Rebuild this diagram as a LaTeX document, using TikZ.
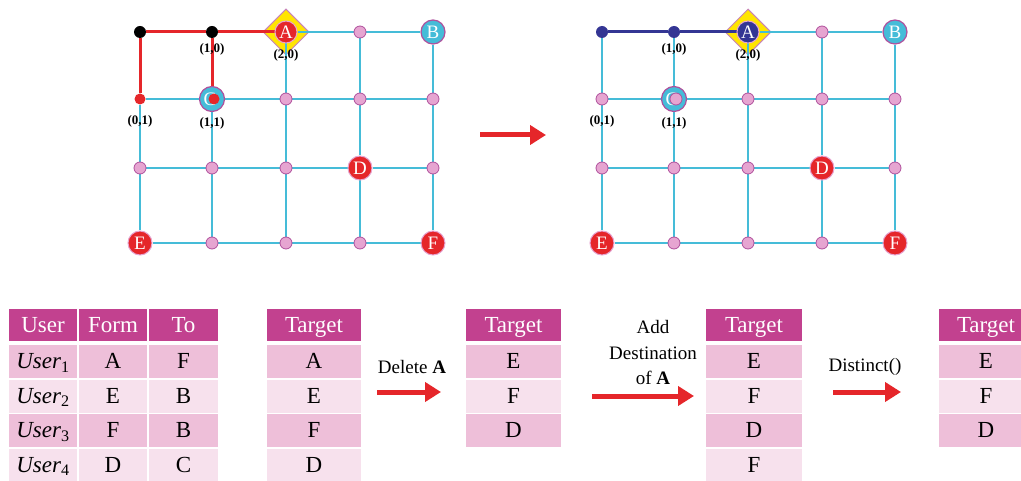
\documentclass[tikz,border=0pt]{standalone}
\usepackage{fontspec}
\setmainfont{Liberation Serif}
\usetikzlibrary{shapes.geometric,arrows.meta,backgrounds}
\definecolor{gridc}{HTML}{45BCD8}
\definecolor{redc}{HTML}{E5262A}
\definecolor{navyc}{HTML}{343694}
\definecolor{pinkc}{HTML}{E6A5D1}
\definecolor{pinkb}{HTML}{B0509C}
\definecolor{yel}{HTML}{FFE500}
\definecolor{hdr}{HTML}{C2418F}
\definecolor{rowa}{HTML}{EEBFD9}
\definecolor{rowb}{HTML}{F7E1ED}
\begin{document}
\begin{tikzpicture}[x=1pt,y=-1pt,
  gedge/.style={gridc, line width=2.5pt},
  redge/.style={redc, line width=3pt},
  nedge/.style={navyc, line width=3pt},
  pdot/.style={circle, fill=pinkc, draw=pinkb, line width=0.8pt, minimum size=12pt, inner sep=0},
  bdot/.style={circle, fill=black, minimum size=12pt, inner sep=0},
  ndot/.style={circle, fill=navyc, minimum size=12pt, inner sep=0},
  rdot/.style={circle, fill=redc, minimum size=11pt, inner sep=0},
  big/.style={circle, minimum size=24pt, inner sep=0, text=white, font=\fontsize{19}{19}\selectfont},
  bigred/.style={big, fill=redc, draw=pinkc, line width=1pt},
  bignavy/.style={big, fill=navyc, draw=pinkc, line width=1pt},
  bigcyan/.style={big, fill=gridc, draw=pinkb, line width=1.2pt},
  dia/.style={diamond, fill=yel, draw=pinkb!70, line width=1pt, minimum width=46pt, minimum height=46pt, inner sep=0},
  coord/.style={font=\bfseries\fontsize{13}{13}\selectfont, inner sep=0},
  cell/.style={minimum height=33pt, inner sep=0, text height=17.5pt, text depth=3pt, font=\fontsize{23}{23}\selectfont},
  hcell/.style={cell, fill=hdr, text=white, minimum height=32pt},
  bigarrow/.style={redc, line width=5pt, -{Triangle[length=16pt,width=19pt]}},
  lbl/.style={font=\fontsize{19}{25.5}\selectfont, align=center, inner sep=0}
]
\clip (0,0) rectangle (1021,481);
% ---------------- left grid ----------------
\node[bdot] (l00) at (140,32) {};
\node[bdot] (l10) at (212,32) {};
\node[bigred, minimum size=22pt] (l20) at (286,32) {A};
\node[pdot] (l30) at (360,32) {};
\node[bigcyan] (l40) at (433,32) {B};
\node[rdot] (l01) at (140,99) {};
\node[bigcyan, minimum size=25pt] (l11) at (212,99) {};
\node[text=white, inner sep=0, font=\fontsize{19}{19}\selectfont] (l11t) at (210,99) {C};
\node[rdot] (l11d) at (214,99) {};
\node[pdot] (l21) at (286,99) {};
\node[pdot] (l31) at (360,99) {};
\node[pdot] (l41) at (433,99) {};
\node[pdot] (l02) at (140,168) {};
\node[pdot] (l12) at (212,168) {};
\node[pdot] (l22) at (286,168) {};
\node[bigred] (l32) at (360,168) {D};
\node[pdot] (l42) at (433,168) {};
\node[bigred] (l03) at (140,243) {E};
\node[pdot] (l13) at (212,243) {};
\node[pdot] (l23) at (286,243) {};
\node[pdot] (l33) at (360,243) {};
\node[bigred] (l43) at (433,243) {F};
\node[coord] (lc10) at (212,49) {(1,0)};
\node[coord] (lc20) at (286,55) {(2,0)};
\node[coord] (lc01) at (140,121) {(0,1)};
\node[coord] (lc11) at (212,123) {(1,1)};
% ---------------- right grid ----------------
\node[ndot] (r00) at (602,32) {};
\node[ndot] (r10) at (674,32) {};
\node[bignavy, minimum size=22pt] (r20) at (748,32) {A};
\node[pdot] (r30) at (822,32) {};
\node[bigcyan] (r40) at (895,32) {B};
\node[pdot] (r01) at (602,99) {};
\node[bigcyan, minimum size=25pt] (r11) at (674,99) {};
\node[text=white, inner sep=0, font=\fontsize{19}{19}\selectfont] (r11t) at (672,99) {C};
\node[pdot] (r11d) at (676,99) {};
\node[pdot] (r21) at (748,99) {};
\node[pdot] (r31) at (822,99) {};
\node[pdot] (r41) at (895,99) {};
\node[pdot] (r02) at (602,168) {};
\node[pdot] (r12) at (674,168) {};
\node[pdot] (r22) at (748,168) {};
\node[bigred] (r32) at (822,168) {D};
\node[pdot] (r42) at (895,168) {};
\node[bigred] (r03) at (602,243) {E};
\node[pdot] (r13) at (674,243) {};
\node[pdot] (r23) at (748,243) {};
\node[pdot] (r33) at (822,243) {};
\node[bigred] (r43) at (895,243) {F};
\node[coord] (rc10) at (674,49) {(1,0)};
\node[coord] (rc20) at (748,55) {(2,0)};
\node[coord] (rc01) at (602,121) {(0,1)};
\node[coord] (rc11) at (674,123) {(1,1)};
% ---------------- edges (behind nodes) ----------------
\begin{pgfonlayer}{background}
  \node[dia] (ldia) at (286,32) {};
  \node[dia] (rdia) at (748,32) {};
  \foreach \g in {l,r}{
    \foreach \r in {1,2,3}
      \foreach \c/\d in {0/1,1/2,2/3,3/4}
        \draw[gedge] (\g\c\r) -- (\g\d\r);
    \foreach \c/\d in {2/3,3/4}
      \draw[gedge] (\g\c0) -- (\g\d0);
    \foreach \c in {2,3,4}
      \foreach \r/\s in {0/1,1/2,2/3}
        \draw[gedge] (\g\c\r) -- (\g\c\s);
    \foreach \c in {0,1}
      \foreach \r/\s in {1/2,2/3}
        \draw[gedge] (\g\c\r) -- (\g\c\s);
  }
  \draw[gedge] (r00) -- (r01);
  \draw[gedge] (r10) -- (r11);
  \draw[redge] (l00) -- (l10);
  \draw[redge] (l10) -- (l20);
  \draw[redge] (l00) -- (l01);
  \draw[redge] (l10) -- (l11);
  \draw[nedge] (r00) -- (r10);
  \draw[nedge] (r10) -- (r20);
\end{pgfonlayer}
% middle arrow
\coordinate (ma) at (480,135);
\coordinate (mb) at (546,135);
\draw[bigarrow] (ma) -- (mb);
% ---------------- tables ----------------
\node[hcell, minimum width=68pt] (t1h1) at (43,325) {User};
\node[hcell, minimum width=68pt] (t1h2) at (113,325) {Form};
\node[hcell, minimum width=69pt] (t1h3) at (183.5,325) {To};
\foreach \i/\y/\s/\f/\t in {1/361.5/rowa/A/F, 2/396/rowb/E/B, 3/430.5/rowa/F/B, 4/465/rowb/D/C}{
  \node[cell, fill=\s, minimum width=68pt] (t1u\i) at (43,\y) {\textit{User}\textsubscript{\i}};
  \node[cell, fill=\s, minimum width=68pt] (t1f\i) at (113,\y) {\f};
  \node[cell, fill=\s, minimum width=69pt] (t1t\i) at (183.5,\y) {\t};
}
\node[hcell, minimum width=94pt] (t2h) at (314,325) {Target};
\foreach \i/\y/\s/\v in {1/361.5/rowa/A, 2/396/rowb/E, 3/430.5/rowa/F, 4/465/rowb/D}
  \node[cell, fill=\s, minimum width=94pt] (t2r\i) at (314,\y) {\v};
\node[hcell, minimum width=95pt] (t3h) at (513.5,325) {Target};
\foreach \i/\y/\s/\v in {1/361.5/rowa/E, 2/396/rowb/F, 3/430.5/rowa/D}
  \node[cell, fill=\s, minimum width=95pt] (t3r\i) at (513.5,\y) {\v};
\node[hcell, minimum width=96pt] (t4h) at (754,325) {Target};
\foreach \i/\y/\s/\v in {1/361.5/rowa/E, 2/396/rowb/F, 3/430.5/rowa/D, 4/465/rowb/F}
  \node[cell, fill=\s, minimum width=96pt] (t4r\i) at (754,\y) {\v};
\node[hcell, minimum width=95pt] (t5h) at (986,325) {Target};
\foreach \i/\y/\s/\v in {1/361.5/rowa/E, 2/396/rowb/F, 3/430.5/rowa/D}
  \node[cell, fill=\s, minimum width=95pt] (t5r\i) at (986,\y) {\v};
% ---------------- step arrows ----------------
\node[lbl] (dl) at (412,367) {Delete \textbf{A}};
\coordinate (d1) at (377,392);
\coordinate (d2) at (441,392);
\draw[bigarrow] (d1) -- (d2);
\node[lbl] (al) at (653,353) {Add\\Destination\\of \textbf{A}};
\coordinate (a1) at (592,396);
\coordinate (a2) at (694,396);
\draw[bigarrow] (a1) -- (a2);
\node[lbl] (xl) at (865,367) {Distinct()};
\coordinate (x1) at (833,392);
\coordinate (x2) at (901,392);
\draw[bigarrow] (x1) -- (x2);
\end{tikzpicture}
\end{document}
